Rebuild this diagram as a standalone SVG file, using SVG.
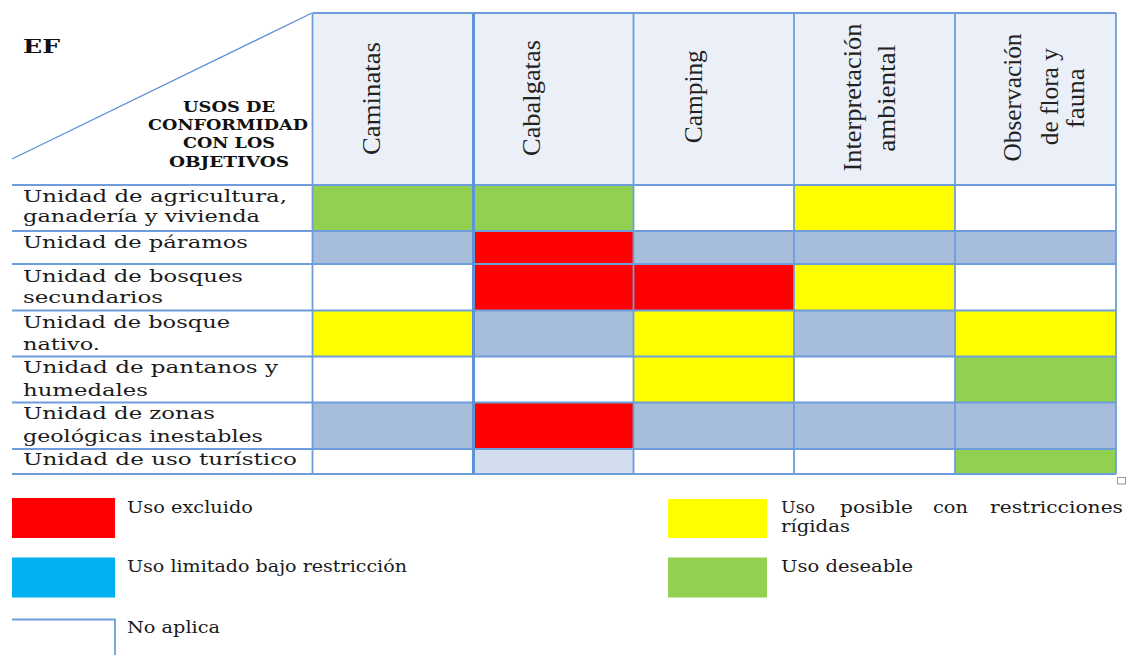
<svg xmlns="http://www.w3.org/2000/svg" width="1126" height="655" viewBox="0 0 1126 655">
<style>
.bg{fill:#ffffff}
.hd{fill:#EBF0F8}
.bl{fill:#A6BDDC}
.lb{fill:#D2DDEE}
.rd{fill:#FF0000}
.ye{fill:#FFFF00}
.gr{fill:#92D050}
.cy{fill:#00B0F0}
.grid{stroke:#6D9EDB;stroke-width:1.8;fill:none}
.thick{stroke:#5F93D8;stroke-width:3;fill:none}
.diag{stroke:#5B8ED6;stroke-width:1.2;fill:none}
.col{font-family:"Liberation Serif","Times New Roman",serif;font-size:26px;fill:#222;text-anchor:middle}
.row{font-family:"DejaVu Serif","Liberation Serif",serif;font-size:17.5px;fill:#1a1a1a}
.bold{font-family:"DejaVu Serif","Liberation Serif",serif;font-weight:bold;fill:#111}
.leg{font-family:"DejaVu Serif","Liberation Serif",serif;font-size:17px;fill:#1a1a1a}
</style>
<rect class="bg" x="0" y="0" width="1126" height="655"/>

<g id="header">
  <rect class="hd" x="312.5" y="13" width="803.5" height="172"/>
  <line class="diag" x1="12" y1="159" x2="312" y2="13"/>
  <text class="bold" x="23" y="53" font-size="18" textLength="37" lengthAdjust="spacingAndGlyphs">EF</text>
  <g font-size="14" text-anchor="middle">
    <text class="bold" x="229" y="111.5" textLength="92" lengthAdjust="spacingAndGlyphs">USOS DE</text>
    <text class="bold" x="228" y="130" textLength="160" lengthAdjust="spacingAndGlyphs">CONFORMIDAD</text>
    <text class="bold" x="229" y="148" textLength="92" lengthAdjust="spacingAndGlyphs">CON LOS</text>
    <text class="bold" x="229" y="166.5" textLength="120" lengthAdjust="spacingAndGlyphs">OBJETIVOS</text>
  </g>
  <text class="col" transform="translate(380,98.5) rotate(-90)" textLength="113" lengthAdjust="spacingAndGlyphs">Caminatas</text>
  <text class="col" transform="translate(539.5,98) rotate(-90)" textLength="116" lengthAdjust="spacingAndGlyphs">Cabalgatas</text>
  <text class="col" transform="translate(701.5,96.7) rotate(-90)" textLength="93" lengthAdjust="spacingAndGlyphs">Camping</text>
  <text class="col" transform="translate(861,97.5) rotate(-90)" textLength="148" lengthAdjust="spacingAndGlyphs">Interpretación</text>
  <text class="col" transform="translate(895,98.3) rotate(-90)" textLength="107" lengthAdjust="spacingAndGlyphs">ambiental</text>
  <text class="col" transform="translate(1020.5,97.5) rotate(-90)" textLength="128" lengthAdjust="spacingAndGlyphs">Observación</text>
  <text class="col" transform="translate(1057.5,96.7) rotate(-90)" textLength="97" lengthAdjust="spacingAndGlyphs">de flora y</text>
  <text class="col" transform="translate(1083.5,98.3) rotate(-90)" textLength="60" lengthAdjust="spacingAndGlyphs">fauna</text>
</g>

<g id="cells">
  <rect class="gr" x="312.5" y="185" width="161" height="46"/>
  <rect class="gr" x="473.5" y="185" width="160" height="46"/>
  <rect class="ye" x="794" y="185" width="161" height="46"/>
  <rect class="bl" x="312.5" y="231" width="161" height="33"/>
  <rect class="rd" x="473.5" y="231" width="160" height="33"/>
  <rect class="bl" x="633.5" y="231" width="482.5" height="33"/>
  <rect class="rd" x="473.5" y="264" width="320.5" height="46.5"/>
  <rect class="ye" x="794" y="264" width="161" height="46.5"/>
  <rect class="ye" x="312.5" y="310.5" width="161" height="46"/>
  <rect class="bl" x="473.5" y="310.5" width="160" height="46"/>
  <rect class="ye" x="633.5" y="310.5" width="160.5" height="46"/>
  <rect class="bl" x="794" y="310.5" width="161" height="46"/>
  <rect class="ye" x="955" y="310.5" width="161" height="46"/>
  <rect class="ye" x="633.5" y="356.5" width="160.5" height="46"/>
  <rect class="gr" x="955" y="356.5" width="161" height="46"/>
  <rect class="bl" x="312.5" y="402.5" width="161" height="46.5"/>
  <rect class="rd" x="473.5" y="402.5" width="160" height="46.5"/>
  <rect class="bl" x="633.5" y="402.5" width="482.5" height="46.5"/>
  <rect class="lb" x="473.5" y="449" width="160" height="25"/>
  <rect class="gr" x="955" y="449" width="161" height="25"/>
</g>

<g id="grid">
  <line class="grid" x1="312.5" y1="13" x2="1116" y2="13"/>
  <line class="grid" x1="12" y1="185" x2="1116" y2="185"/>
  <line class="grid" x1="12" y1="231" x2="1116" y2="231"/>
  <line class="grid" x1="12" y1="264" x2="1116" y2="264"/>
  <line class="grid" x1="12" y1="310.5" x2="1116" y2="310.5"/>
  <line class="grid" x1="12" y1="356.5" x2="1116" y2="356.5"/>
  <line class="grid" x1="12" y1="402.5" x2="1116" y2="402.5"/>
  <line class="grid" x1="12" y1="449" x2="1116" y2="449"/>
  <line class="grid" x1="12" y1="474" x2="1116" y2="474"/>
  <line class="grid" x1="312.5" y1="13" x2="312.5" y2="474"/>
  <line class="thick" x1="473.5" y1="13" x2="473.5" y2="474"/>
  <line class="grid" x1="633.5" y1="13" x2="633.5" y2="474"/>
  <line class="grid" x1="794" y1="13" x2="794" y2="474"/>
  <line class="grid" x1="955" y1="13" x2="955" y2="474"/>
  <line class="grid" x1="1116" y1="13" x2="1116" y2="474"/>
  <rect x="1117.5" y="477.5" width="8" height="6.5" fill="#fff" stroke="#999" stroke-width="1"/>
</g>

<g id="row-labels">
  <text class="row" x="23" y="202" textLength="264" lengthAdjust="spacingAndGlyphs">Unidad de agricultura,</text>
  <text class="row" x="23" y="222" textLength="237" lengthAdjust="spacingAndGlyphs">ganadería y vivienda</text>
  <text class="row" x="23" y="248" textLength="225" lengthAdjust="spacingAndGlyphs">Unidad de páramos</text>
  <text class="row" x="23" y="281.5" textLength="220" lengthAdjust="spacingAndGlyphs">Unidad de bosques</text>
  <text class="row" x="23" y="303" textLength="140" lengthAdjust="spacingAndGlyphs">secundarios</text>
  <text class="row" x="23" y="327.5" textLength="207" lengthAdjust="spacingAndGlyphs">Unidad de bosque</text>
  <text class="row" x="23" y="350" textLength="77" lengthAdjust="spacingAndGlyphs">nativo.</text>
  <text class="row" x="23" y="373.3" textLength="255" lengthAdjust="spacingAndGlyphs">Unidad de pantanos y</text>
  <text class="row" x="23" y="395.7" textLength="125" lengthAdjust="spacingAndGlyphs">humedales</text>
  <text class="row" x="23" y="419.3" textLength="192" lengthAdjust="spacingAndGlyphs">Unidad de zonas</text>
  <text class="row" x="23" y="441.7" textLength="240" lengthAdjust="spacingAndGlyphs">geológicas inestables</text>
  <text class="row" x="23" y="465" textLength="274" lengthAdjust="spacingAndGlyphs">Unidad de uso turístico</text>
</g>

<g id="legend">
  <g id="leg-excluido">
    <rect class="rd" x="12" y="498" width="103" height="40"/>
    <text class="leg" x="127" y="512.7" textLength="126" lengthAdjust="spacingAndGlyphs">Uso excluido</text>
  </g>
  <g id="leg-limitado">
    <rect class="cy" x="12" y="557.5" width="103" height="40"/>
    <text class="leg" x="127" y="572.3" textLength="280" lengthAdjust="spacingAndGlyphs">Uso limitado bajo restricción</text>
  </g>
  <g id="leg-noaplica">
    <path class="grid" d="M12 619.5 H115 V655" stroke-width="1.5"/>
    <text class="leg" x="127" y="632.7" textLength="93" lengthAdjust="spacingAndGlyphs">No aplica</text>
  </g>
  <g id="leg-posible">
    <rect class="ye" x="668" y="499" width="99" height="39"/>
    <text class="leg" x="781" y="512.7" textLength="34" lengthAdjust="spacingAndGlyphs">Uso</text>
    <text class="leg" x="840" y="512.7" textLength="73" lengthAdjust="spacingAndGlyphs">posible</text>
    <text class="leg" x="933" y="512.7" textLength="35" lengthAdjust="spacingAndGlyphs">con</text>
    <text class="leg" x="990" y="512.7" textLength="133" lengthAdjust="spacingAndGlyphs">restricciones</text>
    <text class="leg" x="781" y="531.7" textLength="69" lengthAdjust="spacingAndGlyphs">rígidas</text>
  </g>
  <g id="leg-deseable">
    <rect class="gr" x="668" y="557.5" width="99" height="40"/>
    <text class="leg" x="781" y="572.3" textLength="132" lengthAdjust="spacingAndGlyphs">Uso deseable</text>
  </g>
</g>
</svg>
